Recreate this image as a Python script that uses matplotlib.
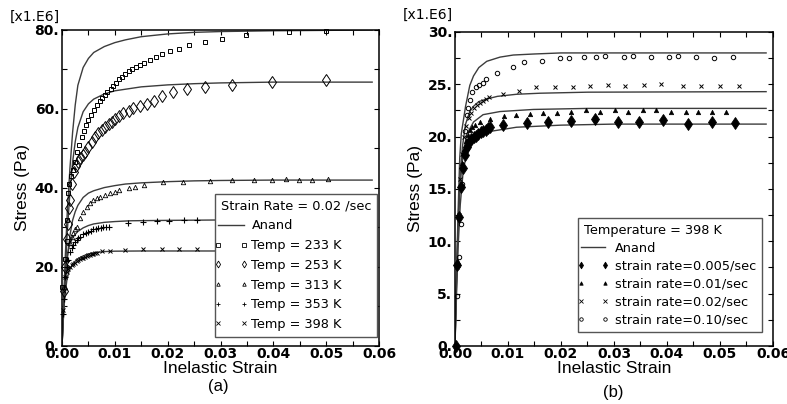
import matplotlib
matplotlib.use('Agg')
import matplotlib.pyplot as plt
from matplotlib.lines import Line2D
from matplotlib.legend_handler import HandlerLine2D
from matplotlib.ticker import MultipleLocator, FormatStrFormatter


tick_font_size = 10
label_font_size = 12.5
legend_font_size = 9.3
curve_colour = '#3c3c3c'

# ---------------- panel (a): strain rate 0.02 /sec, stress in MPa ----------------
anand_233_x = [0, 0.0003, 0.0006, 0.001, 0.0015, 0.002, 0.0025, 0.003, 0.004, 0.005, 0.006, 0.008, 0.010, 0.012, 0.015, 0.020, 0.025, 0.030, 0.040, 0.050, 0.0587]
anand_233_y = [0, 11, 22, 34, 45, 54, 61, 66, 70.5, 72.8, 74.3, 75.8, 76.8, 77.5, 78.3, 79.0, 79.4, 79.6, 79.8, 79.9, 80.0]
anand_253_x = [0, 0.0003, 0.0006, 0.001, 0.0015, 0.002, 0.0025, 0.003, 0.004, 0.005, 0.006, 0.008, 0.010, 0.012, 0.015, 0.020, 0.025, 0.030, 0.040, 0.050, 0.0587]
anand_253_y = [0, 9, 18, 29, 39, 46.5, 51.7, 55.3, 59.3, 61.3, 62.5, 63.8, 64.6, 65.0, 65.6, 66.1, 66.4, 66.6, 66.8, 66.8, 66.8]
anand_313_x = [0, 0.0003, 0.0006, 0.001, 0.0015, 0.002, 0.0025, 0.003, 0.004, 0.005, 0.006, 0.008, 0.010, 0.012, 0.015, 0.020, 0.025, 0.030, 0.040, 0.050, 0.0587]
anand_313_y = [0, 8, 15, 22, 28, 31.8, 34, 35.6, 37.6, 38.7, 39.3, 40.1, 40.6, 41.0, 41.3, 41.6, 41.8, 41.9, 42.0, 42.0, 42.0]
anand_353_x = [0, 0.0002, 0.0005, 0.0009, 0.0013, 0.002, 0.003, 0.004, 0.005, 0.006, 0.008, 0.010, 0.013, 0.020, 0.030, 0.045, 0.0587]
anand_353_y = [0, 8, 16, 22, 25, 27.5, 29.0, 29.9, 30.5, 30.9, 31.3, 31.5, 31.7, 31.8, 31.9, 31.9, 31.9]
anand_398_x = [0, 0.0002, 0.0005, 0.0009, 0.0013, 0.002, 0.003, 0.004, 0.005, 0.006, 0.008, 0.010, 0.015, 0.030, 0.0587]
anand_398_y = [0, 6, 12, 16.5, 18.8, 20.8, 22.1, 22.8, 23.3, 23.6, 23.9, 24.0, 24.05, 24.05, 24.05]

test_233_x = [0.0, 0.0006, 0.0009, 0.0009, 0.0012, 0.0014, 0.0017, 0.0020, 0.0024, 0.0028, 0.0032, 0.0037, 0.0042, 0.0046, 0.0050, 0.0055, 0.0060, 0.0066, 0.0071, 0.0076, 0.0081, 0.0086, 0.0092, 0.0097, 0.0103, 0.0108, 0.0113, 0.0120, 0.0126, 0.0132, 0.0140, 0.0148, 0.0156, 0.0166, 0.0177, 0.0190, 0.0205, 0.0222, 0.0241, 0.0271, 0.0303, 0.0349, 0.0429, 0.0499]
test_233_y = [15, 22, 26.5, 32, 38.7, 41, 43, 44.5, 46.5, 49.2, 51, 53, 54.5, 56, 57.2, 58.5, 59.8, 61, 62, 62.8, 63.5, 64.3, 65.1, 65.9, 66.7, 67.5, 68.2, 68.9, 69.5, 70, 70.6, 71.1, 71.6, 72.3, 73.1, 74, 74.8, 75.3, 76.2, 77, 77.7, 78.7, 79.5, 79.8]
test_253_x = [0.0003, 0.0006, 0.0009, 0.0011, 0.0013, 0.0015, 0.0018, 0.0022, 0.0026, 0.0030, 0.0034, 0.0039, 0.0044, 0.0050, 0.0056, 0.0062, 0.0069, 0.0075, 0.0081, 0.0088, 0.0094, 0.0100, 0.0107, 0.0116, 0.0126, 0.0135, 0.0148, 0.0160, 0.0175, 0.0190, 0.0211, 0.0237, 0.0271, 0.0321, 0.0397, 0.0500]
test_253_y = [14, 20, 27, 31, 35, 37, 41, 44, 45.5, 46.5, 47.5, 48.3, 49, 50.5, 51.7, 52.8, 53.9, 54.6, 55.4, 56.2, 56.8, 57.4, 58.1, 58.9, 59.5, 60.2, 60.8, 61.3, 62.0, 63.3, 64.2, 65.1, 65.6, 66.1, 66.9, 67.3]
test_313_x = [0.0005, 0.0010, 0.0015, 0.0018, 0.0021, 0.0025, 0.0028, 0.0034, 0.0040, 0.0047, 0.0053, 0.0059, 0.0066, 0.0072, 0.0081, 0.0091, 0.0100, 0.0107, 0.0126, 0.0138, 0.0156, 0.0192, 0.0229, 0.0280, 0.0321, 0.0364, 0.0397, 0.0424, 0.0449, 0.0474, 0.0503]
test_313_y = [15, 22, 26, 27.7, 28.5, 29.5, 30.2, 32.3, 34, 35.3, 36.1, 37, 37.4, 37.8, 38.2, 38.7, 39.1, 39.5, 40.1, 40.3, 40.8, 41.4, 41.5, 41.8, 41.9, 41.9, 41.9, 42.2, 42.0, 41.9, 42.2]
test_353_x = [0.0001, 0.0003, 0.0006, 0.0009, 0.0012, 0.0015, 0.0018, 0.0021, 0.0025, 0.0028, 0.0031, 0.0034, 0.0040, 0.0045, 0.0050, 0.0055, 0.0059, 0.0064, 0.0069, 0.0074, 0.0078, 0.0083, 0.0088, 0.0124, 0.0154, 0.0180, 0.0203, 0.0230, 0.0255]
test_353_y = [8, 12, 17.5, 20, 21.8, 23.9, 24.8, 25.6, 26.3, 26.8, 27.3, 27.7, 28.3, 28.6, 28.9, 29.2, 29.5, 29.6, 29.8, 29.9, 30.0, 30.1, 30.2, 31.1, 31.5, 31.6, 31.7, 31.8, 31.8]
test_398_x = [0.0001, 0.0003, 0.0006, 0.0009, 0.0012, 0.0015, 0.0018, 0.0021, 0.0025, 0.0028, 0.0031, 0.0034, 0.0037, 0.0040, 0.0044, 0.0047, 0.0050, 0.0053, 0.0056, 0.0059, 0.0063, 0.0066, 0.0075, 0.0091, 0.0120, 0.0153, 0.0189, 0.0222, 0.0255]
test_398_y = [9, 14, 17.5, 18.8, 19.4, 19.9, 20.4, 20.8, 21.1, 21.4, 21.7, 22.0, 22.2, 22.4, 22.6, 22.8, 23.0, 23.1, 23.3, 23.4, 23.5, 23.6, 24.0, 24.1, 24.3, 24.5, 24.5, 24.6, 24.6]

# ---------------- panel (b): temperature 398 K ----------------
anand_r010_x = [0, 0.0003, 0.0006, 0.0009, 0.0012, 0.0016, 0.002, 0.0028, 0.0035, 0.0045, 0.006, 0.0085, 0.011, 0.015, 0.020, 0.030, 0.0587]
anand_r010_y = [0, 7, 13, 18, 20.3, 21.6, 22.9, 24.9, 25.8, 26.6, 27.2, 27.6, 27.8, 27.9, 28.0, 28.0, 28.0]
anand_r002_x = [0, 0.0003, 0.0006, 0.001, 0.0014, 0.002, 0.0028, 0.0035, 0.0045, 0.006, 0.008, 0.0116, 0.016, 0.025, 0.0587]
anand_r002_y = [0, 6.5, 12, 16.5, 19, 21.2, 22.4, 22.9, 23.35, 23.6, 23.85, 24.05, 24.15, 24.25, 24.3]
anand_r001_x = [0, 0.0003, 0.0006, 0.001, 0.0015, 0.0022, 0.0035, 0.0053, 0.0085, 0.0148, 0.025, 0.0587]
anand_r001_y = [0, 6, 11.5, 15.5, 18.2, 20.2, 21.4, 22.1, 22.4, 22.6, 22.7, 22.7]
anand_r0005_x = [0, 0.0003, 0.0006, 0.001, 0.0016, 0.0022, 0.0028, 0.0041, 0.0066, 0.0116, 0.020, 0.030, 0.0587]
anand_r0005_y = [0, 5, 9.5, 13.5, 17.0, 18.2, 18.9, 19.8, 20.5, 20.9, 21.1, 21.2, 21.2]

rate_0005_x = [0.0002, 0.0004, 0.0007, 0.0011, 0.0015, 0.0018, 0.0022, 0.0026, 0.0030, 0.0035, 0.0040, 0.0044, 0.0049, 0.0053, 0.0058, 0.0063, 0.0067, 0.0091, 0.0135, 0.0175, 0.0218, 0.0264, 0.0308, 0.0348, 0.0393, 0.0439, 0.0485, 0.0528]
rate_0005_y = [0.0, 7.7, 12.3, 15.2, 17.0, 18.2, 19.0, 19.5, 19.8, 20.0, 20.1, 20.3, 20.4, 20.5, 20.6, 20.8, 20.9, 21.1, 21.3, 21.4, 21.5, 21.7, 21.4, 21.4, 21.6, 21.2, 21.4, 21.3]
rate_001_x = [0.0002, 0.0005, 0.0008, 0.0011, 0.0014, 0.0017, 0.0020, 0.0024, 0.0028, 0.0032, 0.0037, 0.0048, 0.0067, 0.0092, 0.0116, 0.0142, 0.0167, 0.0192, 0.0218, 0.0247, 0.0274, 0.0301, 0.0327, 0.0355, 0.0380, 0.0407, 0.0436, 0.0459, 0.0484, 0.0511]
rate_001_y = [0.0, 8.0, 12.5, 15.5, 17.5, 18.8, 19.6, 20.2, 20.6, 20.9, 21.1, 21.4, 21.7, 22.0, 22.1, 22.2, 22.3, 22.3, 22.4, 22.5, 22.4, 22.5, 22.4, 22.5, 22.5, 22.4, 22.4, 22.4, 22.4, 22.4]
rate_002_x = [0.0002, 0.0004, 0.0007, 0.0010, 0.0013, 0.0017, 0.0021, 0.0026, 0.0031, 0.0036, 0.0041, 0.0047, 0.0053, 0.0059, 0.0065, 0.0091, 0.0121, 0.0153, 0.0189, 0.0223, 0.0255, 0.0289, 0.0321, 0.0357, 0.0389, 0.0430, 0.0464, 0.0500, 0.0536]
rate_002_y = [0.0, 7.5, 12.5, 16.0, 18.3, 20.0, 21.0, 21.8, 22.3, 22.7, 23.0, 23.2, 23.4, 23.6, 23.8, 24.1, 24.4, 24.7, 24.7, 24.7, 24.8, 24.9, 24.8, 24.9, 25.0, 24.8, 24.8, 24.8, 24.8]
rate_010_x = [0.0002, 0.0004, 0.0008, 0.0011, 0.0014, 0.0017, 0.0019, 0.0022, 0.0025, 0.0028, 0.0033, 0.0040, 0.0046, 0.0052, 0.0058, 0.0079, 0.0110, 0.0131, 0.0165, 0.0198, 0.0216, 0.0244, 0.0266, 0.0283, 0.0319, 0.0335, 0.0369, 0.0404, 0.0421, 0.0455, 0.0489, 0.0525]
rate_010_y = [0.0, 4.8, 8.5, 11.7, 15.5, 18.5, 20.5, 22.1, 22.7, 23.5, 24.3, 24.7, 24.9, 25.1, 25.5, 26.1, 26.7, 27.1, 27.2, 27.5, 27.5, 27.6, 27.6, 27.7, 27.6, 27.7, 27.6, 27.6, 27.7, 27.6, 27.5, 27.6]


def style_axis(ax, ymax, ymajor):
  ax.set_xlim(0, 0.06)
  ax.set_ylim(0, ymax)
  ax.xaxis.set_major_locator(MultipleLocator(0.01))
  ax.xaxis.set_minor_locator(MultipleLocator(0.005))
  ax.yaxis.set_major_locator(MultipleLocator(ymajor))
  ax.yaxis.set_minor_locator(MultipleLocator(ymajor / 2.0))
  ax.xaxis.set_major_formatter(FormatStrFormatter('%.2f'))
  ax.yaxis.set_major_formatter(FormatStrFormatter('%d.'))
  ax.tick_params(which='both', direction='in', top=True, right=True, length=3.5, width=0.8)
  ax.tick_params(axis='x', labelsize=tick_font_size, pad=1)
  ax.tick_params(axis='y', labelsize=tick_font_size, pad=2)
  for t in ax.get_xticklabels() + ax.get_yticklabels():
    t.set_fontweight('bold')
  for s in ax.spines.values():
    s.set_linewidth(1.1)
  ax.set_xlabel('Inelastic Strain', fontsize=label_font_size, family='Liberation Sans', labelpad=0)
  ax.set_ylabel('Stress (Pa)', fontsize=label_font_size, family='Liberation Sans', labelpad=3)


def add_legend(ax, title, handles, labels, anchor, spacing, hlen, tpad):
  h = [Line2D([], [], color=curve_colour, lw=1.0)] + handles
  l = ['Anand'] + labels
  leg = ax.legend(h, l, title=title, loc='lower right', bbox_to_anchor=anchor, borderaxespad=0,
                  fontsize=legend_font_size, title_fontsize=legend_font_size, alignment='left',
                  labelspacing=spacing, handlelength=hlen, handletextpad=tpad, borderpad=0.45,
                  fancybox=False, framealpha=1, edgecolor='#555555',
                  handler_map={Line2D: HandlerLine2D(marker_pad=-0.25, numpoints=2)})
  leg.get_frame().set_linewidth(1.0)


fig = plt.figure(figsize=(7.87, 4.04), dpi=100)
ax1 = fig.add_axes([0.0788, 0.1436, 0.4028, 0.7822])
ax2 = fig.add_axes([0.5781, 0.1436, 0.4041, 0.7772])

# panel (a)
for xs, ys in [(anand_233_x, anand_233_y), (anand_253_x, anand_253_y), (anand_313_x, anand_313_y),
               (anand_353_x, anand_353_y), (anand_398_x, anand_398_y)]:
  ax1.plot(xs, ys, color=curve_colour, lw=1.0)
ax1.plot(test_233_x, test_233_y, ls='none', marker='s', ms=3.2, mfc='none', mec='k', mew=0.7, clip_on=False)
ax1.plot(test_253_x, test_253_y, ls='none', marker='d', ms=6, mfc='none', mec='k', mew=0.7, clip_on=False)
ax1.plot(test_313_x, test_313_y, ls='none', marker='^', ms=3.2, mfc='none', mec='k', mew=0.6, clip_on=False)
ax1.plot(test_353_x, test_353_y, ls='none', marker='+', ms=4.5, mec='k', mew=0.8, clip_on=False)
ax1.plot(test_398_x, test_398_y, ls='none', marker='x', ms=3.5, mec='k', mew=0.7, clip_on=False)
style_axis(ax1, 80, 20)
a_handles = [Line2D([], [], ls='none', marker='s', ms=2.5, mfc='none', mec='k', mew=0.6),
             Line2D([], [], ls='none', marker='d', ms=3.5, mfc='none', mec='k', mew=0.6),
             Line2D([], [], ls='none', marker='^', ms=2.5, mfc='none', mec='k', mew=0.6),
             Line2D([], [], ls='none', marker='+', ms=3.5, mec='k', mew=0.6),
             Line2D([], [], ls='none', marker='x', ms=2.8, mec='k', mew=0.6)]
add_legend(ax1, 'Strain Rate = 0.02 /sec', a_handles,
           ['Temp = 233 K', 'Temp = 253 K', 'Temp = 313 K', 'Temp = 353 K', 'Temp = 398 K'],
           (0.995, 0.029), 0.52, 1.5, 0.85)
fig.text(0.013, 0.958, '[x1.E6]', fontsize=10, ha='left', va='center')
fig.text(0.277, 0.043, '(a)', fontsize=12, family='Liberation Sans', ha='center', va='center')

# panel (b)
for xs, ys in [(anand_r010_x, anand_r010_y), (anand_r002_x, anand_r002_y),
               (anand_r001_x, anand_r001_y), (anand_r0005_x, anand_r0005_y)]:
  ax2.plot(xs, ys, color=curve_colour, lw=1.0)
ax2.plot(rate_0005_x, rate_0005_y, ls='none', marker='d', ms=6.5, mfc='k', mec='k', mew=0.6, clip_on=False)
ax2.plot(rate_001_x, rate_001_y, ls='none', marker='^', ms=3.2, mfc='k', mec='k', mew=0.5, clip_on=False)
ax2.plot(rate_002_x, rate_002_y, ls='none', marker='x', ms=3.5, mec='k', mew=0.7, clip_on=False)
ax2.plot(rate_010_x, rate_010_y, ls='none', marker='o', ms=3.2, mfc='none', mec='k', mew=0.7, clip_on=False)
style_axis(ax2, 30, 5)
b_handles = [Line2D([], [], ls='none', marker='d', ms=3.5, mfc='k', mec='k', mew=0.5),
             Line2D([], [], ls='none', marker='^', ms=2.5, mfc='k', mec='k', mew=0.5),
             Line2D([], [], ls='none', marker='x', ms=2.8, mec='k', mew=0.6),
             Line2D([], [], ls='none', marker='o', ms=2.5, mfc='none', mec='k', mew=0.6)]
add_legend(ax2, 'Temperature = 398 K', b_handles,
           ['strain rate=0.005/sec', 'strain rate=0.01/sec', 'strain rate=0.02/sec', 'strain rate=0.10/sec'],
           (0.966, 0.044), 0.38, 1.4, 1.0)
fig.text(0.512, 0.963, '[x1.E6]', fontsize=10, ha='left', va='center')
fig.text(0.779, 0.028, '(b)', fontsize=12, family='Liberation Sans', ha='center', va='center')

fig.savefig('out.png', dpi=100)
